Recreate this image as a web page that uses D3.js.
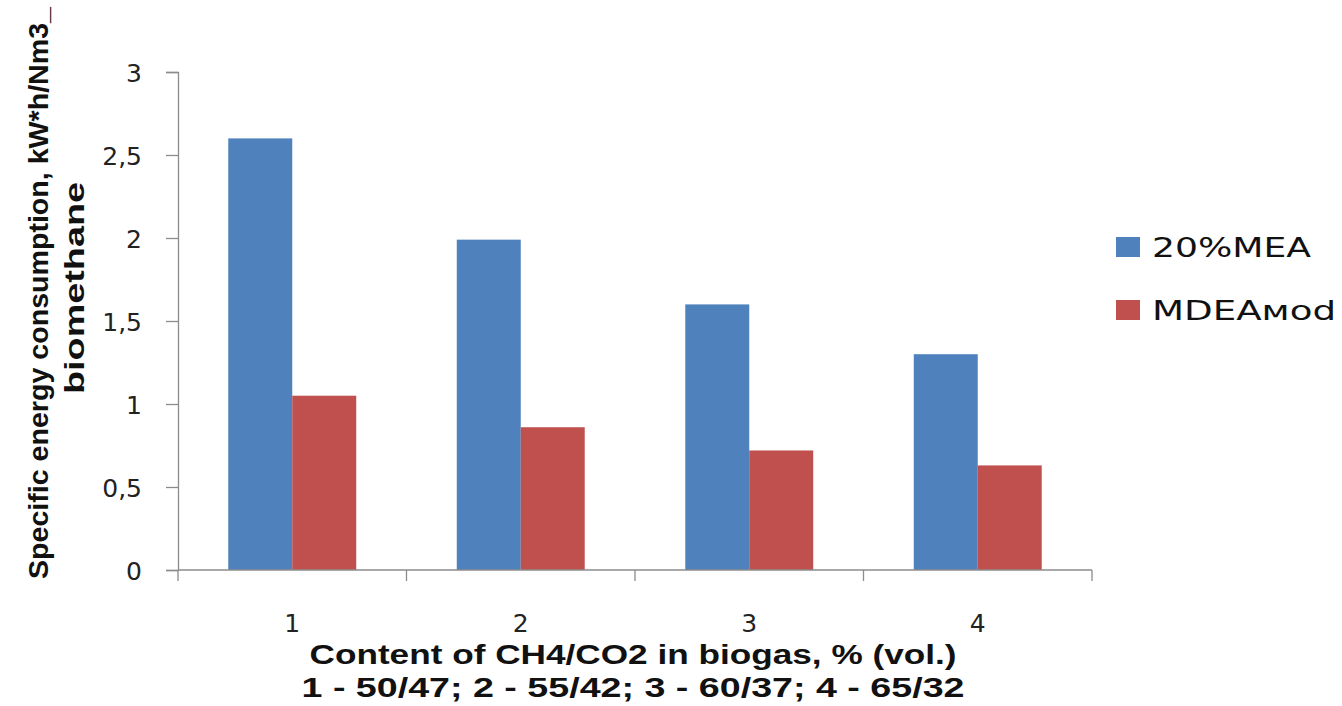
<!DOCTYPE html>
<html>
<head>
    <meta charset="UTF-8">
    <title>Specific energy consumption</title>
    <script src="https://d3js.org/d3.v7.min.js"></script>
    <style>
        body { margin: 0; background: #fff; }
        .tick text { font-family: "DejaVu Sans", sans-serif; font-size: 25px; fill: #222; }
        .axis path, .axis line { stroke: #8c8c8c; stroke-width: 1.3px; }
        .title { font-family: "Liberation Sans", Arial, sans-serif; font-weight: bold; font-size: 27px; fill: #111; }
        .legend-label { font-family: "DejaVu Sans", sans-serif; font-size: 27px; fill: #111; }
    </style>
</head>
<body>
    <div id="chart"></div>
    <script>
        // data
        const categories = ["1", "2", "3", "4"];
        const seriesNames = ["20%MEA", "MDEAмod"];
        const meaValues = [2.6, 1.99, 1.6, 1.3];
        const mdeaValues = [1.05, 0.86, 0.72, 0.63];
        const yTickValues = [0, 0.5, 1, 1.5, 2, 2.5, 3];
        const colors = ["#4f81bd", "#c0504d"];

        const W = 1342, H = 706;
        const margin = {top: 72, left: 178, right: 250, bottom: 136};
        const width = W - margin.left - margin.right;
        const height = H - margin.top - margin.bottom;

        const svg = d3.select("#chart").append("svg")
            .attr("width", W)
            .attr("height", H);

        const g = svg.append("g")
            .attr("transform", `translate(${margin.left},${margin.top})`);

        const x0 = d3.scaleBand().domain(categories).range([0, width]).padding(0);
        const gap = x0.bandwidth() * 0.22;
        const x1 = d3.scaleBand().domain(seriesNames)
            .range([gap, x0.bandwidth() - gap]).padding(0);
        const y = d3.scaleLinear().domain([0, 3]).range([height, 0]);

        const rows = categories.map((c, i) => ({cat: c, vals: [meaValues[i], mdeaValues[i]]}));

        // bars
        g.selectAll(".group")
            .data(rows)
            .enter().append("g")
            .attr("transform", d => `translate(${x0(d.cat)},0)`)
            .selectAll("rect")
            .data(d => d.vals.map((v, k) => ({name: seriesNames[k], v: v, k: k})))
            .enter().append("rect")
            .attr("x", d => x1(d.name))
            .attr("width", x1.bandwidth())
            .attr("y", d => y(d.v))
            .attr("height", d => height - y(d.v))
            .attr("fill", d => colors[d.k]);

        // y axis
        const yAxis = g.append("g")
            .attr("class", "axis")
            .call(d3.axisLeft(y).tickValues(yTickValues)
                .tickSize(12).tickPadding(24)
                .tickFormat(d => String(d).replace(".", ",")));
        yAxis.selectAll("text").attr("dy", "0.36em");

        // x axis: ticks sit on the band edges
        const xAxis = g.append("g")
            .attr("class", "axis")
            .attr("transform", `translate(0,${height})`);
        xAxis.append("line")
            .attr("x1", 0).attr("x2", width)
            .attr("y1", 0).attr("y2", 0);
        const edges = categories.map(c => x0(c)).concat([width]);
        xAxis.selectAll(".edge")
            .data(edges)
            .enter().append("line")
            .attr("x1", d => d).attr("x2", d => d)
            .attr("y1", 0).attr("y2", 11);
        xAxis.selectAll(".tick")
            .data(categories)
            .enter().append("g")
            .attr("class", "tick")
            .append("text")
            .attr("x", d => x0(d) + x0.bandwidth() / 2)
            .attr("y", 62)
            .attr("text-anchor", "middle")
            .text(d => d);

        // axis titles
        const cx = margin.left + width / 2 - 2;
        svg.append("text")
            .attr("class", "title")
            .attr("x", cx).attr("y", 664)
            .attr("text-anchor", "middle")
            .attr("textLength", 647).attr("lengthAdjust", "spacingAndGlyphs")
            .text("Content of CH4/CO2 in biogas, % (vol.)");
        svg.append("text")
            .attr("class", "title")
            .attr("x", cx).attr("y", 697)
            .attr("text-anchor", "middle")
            .attr("textLength", 663).attr("lengthAdjust", "spacingAndGlyphs")
            .text("1 - 50/47; 2 - 55/42; 3 - 60/37; 4 - 65/32");

        const yt = svg.append("g")
            .attr("transform", "translate(0,293) rotate(-90)");
        yt.append("text")
            .attr("class", "title")
            .attr("x", 0).attr("y", 48)
            .attr("text-anchor", "middle")
            .attr("textLength", 572).attr("lengthAdjust", "spacingAndGlyphs")
            .text("Specific energy consumption, kW*h/Nm3_");
        yt.append("text")
            .attr("class", "title")
            .attr("x", 5).attr("y", 84)
            .attr("text-anchor", "middle")
            .attr("textLength", 212).attr("lengthAdjust", "spacingAndGlyphs")
            .text("biomethane");

        // legend
        const legend = svg.append("g")
            .attr("transform", "translate(1116,237)");
        const item = legend.selectAll(".item")
            .data(seriesNames)
            .enter().append("g")
            .attr("transform", (d, i) => `translate(0,${i * 63})`);
        item.append("rect")
            .attr("width", 24).attr("height", 20)
            .attr("fill", (d, i) => colors[i]);
        item.append("text")
            .attr("class", "legend-label")
            .attr("x", 36).attr("y", 20)
            .attr("textLength", (d, i) => i === 0 ? 159 : 184)
            .attr("lengthAdjust", "spacingAndGlyphs")
            .text(d => d);
    </script>
</body>
</html>
